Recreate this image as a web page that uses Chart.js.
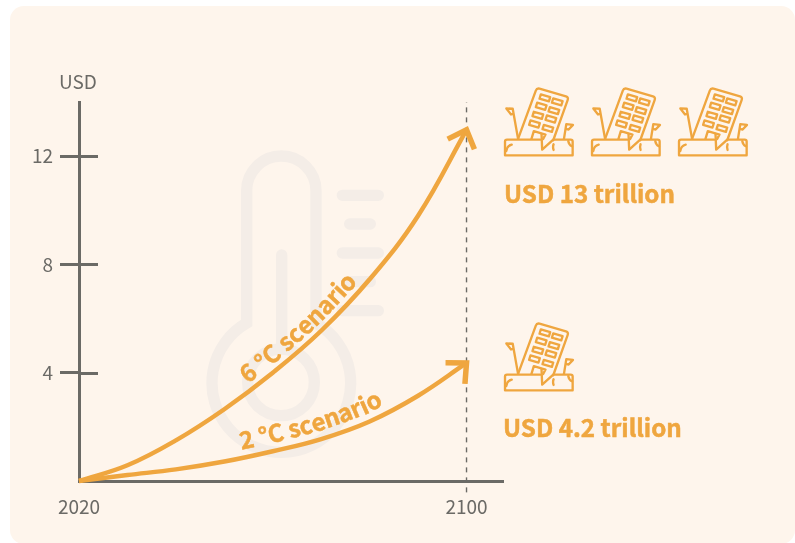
<!DOCTYPE html>
<html lang="en">
<head>
<meta charset="UTF-8">
<title>Cost of climate scenarios</title>
<script src="https://cdn.jsdelivr.net/npm/chart.js"></script>
<style>
  html, body { margin: 0; padding: 0; background: #fff; overflow: hidden; }
  #card { position: absolute; left: 10px; top: 6px; width: 785px; height: 538px; background: #fef5ec; border-radius: 14px; }
  #thermo { position: absolute; left: 200px; top: 140px; width: 200px; height: 330px; overflow: visible; }
  .house { position: absolute; width: 72px; height: 72px; }
  canvas { position: absolute; left: 0; top: 0; }
</style>
</head>
<body>
<div id="card"></div>

<svg id="thermo" viewBox="0 0 600 990" fill="none" stroke="#f4ede7" stroke-width="34" stroke-linecap="round">
  <path d="M140 549V152A104 104 0 0 1 348 152V549A208 208 0 1 1 140 549Z"/>
  <circle cx="243" cy="727" r="100"/>
  <path d="M245 345V625"/>
  <path d="M427 166H535M449 252H511M427 339H535M449 425H511M427 512H535"/>
</svg>

<svg width="0" height="0" style="position:absolute">
  <symbol id="building" viewBox="40 20 215 215">
    <g fill="none" stroke="#efa63f" stroke-width="7" stroke-linejoin="round" stroke-linecap="round">
      <path d="M150 180H52Q46 180 46 186V227H248V186Q248 180 242 180H190L157 210L155 163"/>
      <path d="M85 178L138 34Q141 26 149 28L228 51Q236 54 233 62L190 182"/>
      <path d="M125 178L132 155L167 165L160 178"/>
      <path d="M153 45l28 8l-4 13l-28-8zM190 57l28 8l-4 13l-28-8z"/>
      <path d="M142 70l28 8l-4 13l-28-8zM180 83l28 8l-4 13l-28-8z"/>
      <path d="M132 97l28 8l-4 13l-28-8zM171 108l28 8l-4 13l-28-8z"/>
      <path d="M122 123l28 8l-4 13l-28-8zM162 136l28 8l-4 13l-28-8z"/>
      <path d="M85 178L69 88L50 87L64 105L71 102"/>
      <path d="M222 178L229 134L249 136L236 150L228 148"/>
      <path d="M66 195Q52 198 50 214M191 194Q188 202 191 211M235 185Q237 196 246 200"/>
    </g>
  </symbol>
</svg>
<svg class="house" style="left:503px;top:86px"><use href="#building"/></svg>
<svg class="house" style="left:590px;top:86px"><use href="#building"/></svg>
<svg class="house" style="left:677px;top:86px"><use href="#building"/></svg>
<svg class="house" style="left:503px;top:321px"><use href="#building"/></svg>

<canvas id="grafico" width="795" height="543"></canvas>

<script>
  const anos = [2020, 2030, 2040, 2050, 2060, 2070, 2080, 2090, 2100];
  const valores6C = [0, 0.58, 1.5, 2.65, 4.0, 5.55, 7.45, 9.8, 12.97];
  const valores2C = [0, 0.22, 0.43, 0.72, 1.1, 1.55, 2.2, 3.15, 4.36];
  const ticksY = [4, 8, 12];
  const ticksX = [2020, 2100];
  const nomes = ['6 °C scenario', '2 °C scenario'];
  const totais = ['USD 13 trillion', 'USD 4.2 trillion'];

  const LARANJA = '#efa63f';
  const CINZA = '#6b6a66';
  const FONTE = '"Noto Sans CJK SC", "Noto Sans", sans-serif';

  function pontos(valores) {
    return anos.map((ano, i) => ({ x: ano, y: valores[i] }));
  }

  // posicao num ponto do caminho da serie
  function noCaminho(pts, s) {
    let resto = Math.max(s, 0);
    for (let i = 1; i < pts.length; i++) {
      const dx = pts[i].x - pts[i - 1].x;
      const dy = pts[i].y - pts[i - 1].y;
      const d = Math.hypot(dx, dy);
      if (resto <= d || i === pts.length - 1) {
        return { x: pts[i - 1].x + dx * resto / d, y: pts[i - 1].y + dy * resto / d };
      }
      resto -= d;
    }
  }

  function textoNaCurva(ctx, meta, texto, inicio, afastamento) {
    const pts = meta.data.map(p => ({ x: p.x, y: p.y }));
    ctx.save();
    ctx.font = 'bold 24px ' + FONTE;
    ctx.fillStyle = LARANJA;
    ctx.strokeStyle = LARANJA;
    ctx.lineWidth = 0.5;
    ctx.textAlign = 'center';
    ctx.textBaseline = 'alphabetic';
    let s = inicio;
    for (const letra of texto) {
      const w = ctx.measureText(letra).width;
      const meio = s + w / 2;
      const a = noCaminho(pts, meio - 30);
      const b = noCaminho(pts, meio + 30);
      const c = noCaminho(pts, meio);
      const ang = Math.atan2(b.y - a.y, b.x - a.x);
      ctx.save();
      ctx.translate(c.x + Math.sin(ang) * afastamento, c.y - Math.cos(ang) * afastamento);
      ctx.rotate(ang);
      ctx.fillText(letra, 0, 0);
      ctx.strokeText(letra, 0, 0);
      ctx.restore();
      s += w;
    }
    ctx.restore();
  }

  function seta(ctx, meta) {
    const fim = meta.data[meta.data.length - 1];
    const ant = meta.data[meta.data.length - 2];
    const ang = Math.atan2(ant.y - fim.y, ant.x - fim.x) - 0.15;
    ctx.save();
    ctx.strokeStyle = LARANJA;
    ctx.lineWidth = 5.5;
    ctx.lineJoin = 'miter';
    ctx.beginPath();
    ctx.moveTo(fim.x + Math.cos(ang + 0.75) * 21, fim.y + Math.sin(ang + 0.75) * 21);
    ctx.lineTo(fim.x, fim.y);
    ctx.lineTo(fim.x + Math.cos(ang - 0.75) * 21, fim.y + Math.sin(ang - 0.75) * 21);
    ctx.stroke();
    ctx.restore();
  }

  const extras = {
    id: 'extras',
    beforeDatasetsDraw(chart) {
      // parte interna das marcas do eixo y
      const { ctx, scales } = chart;
      ctx.save();
      ctx.strokeStyle = CINZA;
      ctx.lineWidth = 3;
      ticksY.forEach(v => {
        const y = Math.round(scales.y.getPixelForValue(v)) + 0.5;
        ctx.beginPath();
        ctx.moveTo(scales.x.left, y);
        ctx.lineTo(scales.x.left + 19, y);
        ctx.stroke();
      });
      ctx.restore();
    },
    afterDatasetsDraw(chart) {
      const { ctx } = chart;
      seta(ctx, chart.getDatasetMeta(0));
      seta(ctx, chart.getDatasetMeta(1));
      textoNaCurva(ctx, chart.getDatasetMeta(0), nomes[0], 197, 6);
      textoNaCurva(ctx, chart.getDatasetMeta(1), nomes[1], 166, 8);

      ctx.save();
      ctx.fillStyle = CINZA;
      ctx.font = '19px ' + FONTE;
      ctx.textAlign = 'center';
      ctx.textBaseline = 'middle';
      ctx.fillText('USD', 78, 82);
      ctx.fillStyle = LARANJA;
      ctx.strokeStyle = LARANJA;
      ctx.lineWidth = 0.5;
      ctx.font = 'bold 24.2px ' + FONTE;
      ctx.textAlign = 'left';
      ctx.fillText(totais[0], 504, 194);
      ctx.strokeText(totais[0], 504, 194);
      ctx.fillText(totais[1], 503, 428);
      ctx.strokeText(totais[1], 503, 428);
      ctx.restore();
    }
  };

  new Chart(document.getElementById('grafico').getContext('2d'), {
    type: 'scatter',
    data: {
      datasets: [
        { label: nomes[0], data: pontos(valores6C), showLine: true, borderColor: LARANJA, borderWidth: 4.5, tension: 0.4, pointRadius: 0, clip: false },
        { label: nomes[1], data: pontos(valores2C), showLine: true, borderColor: LARANJA, borderWidth: 4.5, tension: 0.4, pointRadius: 0, clip: false },
        { label: '2100', data: [{ x: 2100, y: -0.42 }, { x: 2100, y: 14 }], showLine: true, borderColor: CINZA, borderWidth: 1.4, borderDash: [5, 5], pointRadius: 0, clip: false }
      ]
    },
    options: {
      responsive: false,
      animation: false,
      layout: { padding: { top: 102, right: 292, left: 0, bottom: 0 } },
      plugins: { legend: { display: false }, tooltip: { enabled: false } },
      scales: {
        x: {
          type: 'linear',
          min: 2020,
          max: 2107.53,
          afterFit(scale) { scale.height = 62; },
          afterBuildTicks(scale) { scale.ticks = ticksX.map(v => ({ value: v })); },
          border: { color: CINZA, width: 3 },
          grid: { display: false, drawTicks: false },
          ticks: { color: CINZA, padding: 14, maxRotation: 0, autoSkip: false, font: { family: FONTE, size: 19 }, callback: v => String(v) }
        },
        y: {
          min: 0,
          max: 14,
          afterFit(scale) { scale.width = 79; },
          afterBuildTicks(scale) { scale.ticks = ticksY.map(v => ({ value: v })); },
          border: { color: CINZA, width: 3 },
          grid: { drawOnChartArea: false, tickLength: 19, tickWidth: 3, tickColor: CINZA },
          ticks: { color: CINZA, padding: 7, autoSkip: false, font: { family: FONTE, size: 19 }, callback: v => String(v) }
        }
      }
    },
    plugins: [extras]
  });
</script>
</body>
</html>
